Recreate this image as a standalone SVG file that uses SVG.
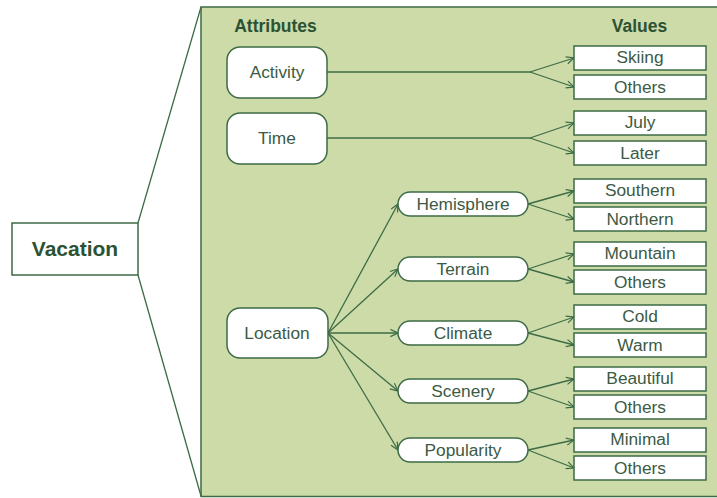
<svg xmlns="http://www.w3.org/2000/svg" width="717" height="498" viewBox="0 0 717 498">
<defs>
<style>
.ln{stroke:#3d6b45;stroke-width:1.3;fill:none}
.box{fill:#fff;stroke:#3d6b45;stroke-width:1.5}
.t{font-family:"Liberation Sans",Arial,sans-serif;font-size:17.3px;fill:#3c5a44;text-anchor:middle;dominant-baseline:central}
.h{font-family:"Liberation Sans",Arial,sans-serif;font-size:17.5px;font-weight:bold;fill:#2c5234;text-anchor:middle}
</style>
<marker id="ar" viewBox="0 0 10 10" refX="9.5" refY="5" markerWidth="9" markerHeight="9" markerUnits="userSpaceOnUse" orient="auto">
<path d="M1,1 L9.5,5 L1,9" fill="none" stroke="#3d6b45" stroke-width="1.3"/>
</marker>
</defs>
<rect width="717" height="498" fill="#fff"/>
<g id="panel">
<rect x="201" y="7" width="530" height="489.5" fill="#cddba9" stroke="#3d6b45" stroke-width="1.5"/>
<text class="h" x="275.5" y="32">Attributes</text>
<text class="h" x="639.5" y="32">Values</text>
</g>
<g id="connectors">
<line class="ln" x1="138" y1="223" x2="201" y2="7"/>
<line class="ln" x1="138" y1="275" x2="201" y2="496"/>
<path class="ln" d="M327,72 H530"/>
<path class="ln" d="M530,72 L574,58" marker-end="url(#ar)"/>
<path class="ln" d="M530,72 L574,87" marker-end="url(#ar)"/>
<path class="ln" d="M327,138 H530"/>
<path class="ln" d="M530,138 L574,123" marker-end="url(#ar)"/>
<path class="ln" d="M530,138 L574,153" marker-end="url(#ar)"/>
<path class="ln" d="M328,333 L398,204" marker-end="url(#ar)"/>
<path class="ln" d="M328,333 L398,269" marker-end="url(#ar)"/>
<path class="ln" d="M328,333 L398,333" marker-end="url(#ar)"/>
<path class="ln" d="M328,333 L398,391" marker-end="url(#ar)"/>
<path class="ln" d="M328,333 L398,450" marker-end="url(#ar)"/>
<path class="ln" d="M528,204 L574,191" marker-end="url(#ar)"/>
<path class="ln" d="M528,204 L574,219" marker-end="url(#ar)"/>
<path class="ln" d="M528,269 L574,254" marker-end="url(#ar)"/>
<path class="ln" d="M528,269 L574,282" marker-end="url(#ar)"/>
<path class="ln" d="M528,333 L574,317" marker-end="url(#ar)"/>
<path class="ln" d="M528,333 L574,345" marker-end="url(#ar)"/>
<path class="ln" d="M528,391 L574,379" marker-end="url(#ar)"/>
<path class="ln" d="M528,391 L574,407" marker-end="url(#ar)"/>
<path class="ln" d="M528,450 L574,440" marker-end="url(#ar)"/>
<path class="ln" d="M528,450 L574,468" marker-end="url(#ar)"/>
</g>
<g id="vacation">
<rect class="box" x="12" y="223" width="126" height="52"/>
<text class="t" x="75" y="248" style="font-weight:bold;font-size:21px;fill:#2c5234">Vacation</text>
</g>
<g id="activity"><rect class="box" x="227" y="47" width="100" height="51" rx="13"/><text class="t" x="277" y="72">Activity</text></g>
<g id="time"><rect class="box" x="227" y="113" width="100" height="51" rx="13"/><text class="t" x="277" y="138">Time</text></g>
<g id="location"><rect class="box" x="227" y="308" width="101" height="50" rx="13"/><text class="t" x="277" y="333">Location</text></g>
<g id="hemisphere"><rect class="box" x="398" y="192" width="130" height="24" rx="12"/><text class="t" x="463" y="204">Hemisphere</text></g>
<g id="terrain"><rect class="box" x="398" y="257" width="130" height="24" rx="12"/><text class="t" x="463" y="269">Terrain</text></g>
<g id="climate"><rect class="box" x="398" y="321" width="130" height="24" rx="12"/><text class="t" x="463" y="333">Climate</text></g>
<g id="scenery"><rect class="box" x="398" y="379" width="130" height="24" rx="12"/><text class="t" x="463" y="391">Scenery</text></g>
<g id="popularity"><rect class="box" x="398" y="438" width="130" height="24" rx="12"/><text class="t" x="463" y="450">Popularity</text></g>
<g id="skiing"><rect class="box" x="574" y="46" width="132" height="24"/><text class="t" x="640" y="57">Skiing</text></g>
<g id="others1"><rect class="box" x="574" y="75" width="132" height="24"/><text class="t" x="640" y="87">Others</text></g>
<g id="july"><rect class="box" x="574" y="111" width="132" height="24"/><text class="t" x="640" y="122">July</text></g>
<g id="later"><rect class="box" x="574" y="141" width="132" height="24"/><text class="t" x="640" y="153">Later</text></g>
<g id="southern"><rect class="box" x="574" y="179" width="132" height="24"/><text class="t" x="640" y="190">Southern</text></g>
<g id="northern"><rect class="box" x="574" y="207" width="132" height="24"/><text class="t" x="640" y="219">Northern</text></g>
<g id="mountain"><rect class="box" x="574" y="242" width="132" height="24"/><text class="t" x="640" y="253">Mountain</text></g>
<g id="others2"><rect class="box" x="574" y="270" width="132" height="24"/><text class="t" x="640" y="282">Others</text></g>
<g id="cold"><rect class="box" x="574" y="305" width="132" height="24"/><text class="t" x="640" y="316">Cold</text></g>
<g id="warm"><rect class="box" x="574" y="333" width="132" height="24"/><text class="t" x="640" y="345">Warm</text></g>
<g id="beautiful"><rect class="box" x="574" y="367" width="132" height="24"/><text class="t" x="640" y="378">Beautiful</text></g>
<g id="others3"><rect class="box" x="574" y="395" width="132" height="24"/><text class="t" x="640" y="407">Others</text></g>
<g id="minimal"><rect class="box" x="574" y="428" width="132" height="24"/><text class="t" x="640" y="439">Minimal</text></g>
<g id="others4"><rect class="box" x="574" y="456" width="132" height="24"/><text class="t" x="640" y="468">Others</text></g>
</svg>
